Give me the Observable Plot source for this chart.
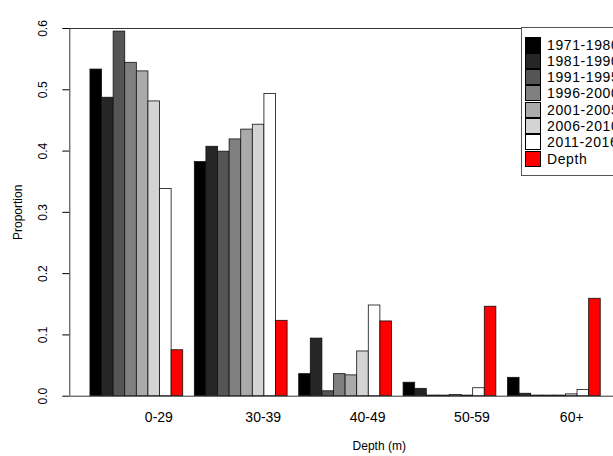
<!DOCTYPE html>
<html><head><meta charset="utf-8">
<script src="https://cdn.jsdelivr.net/npm/d3@7"></script>
<script src="https://cdn.jsdelivr.net/npm/@observablehq/plot@0.6"></script>
<style>body{margin:0;background:#fff;font-family:"Liberation Sans",Arial,sans-serif}#wrap{position:relative;width:613px;height:456px;overflow:hidden}
#legend{position:absolute;left:521px;top:27px;width:130px;height:149px;border:1px solid #555;box-sizing:border-box;background:#fff;font-size:14px;letter-spacing:0.6px}
.row{position:absolute;left:3px;height:15px;display:flex;align-items:center;white-space:nowrap}
.sw{width:14px;height:14px;border:1px solid #000;margin-right:6px}
</style></head><body><div id="wrap"><div id="chart"></div><div id="legend"></div></div>
<script>
const groups = ["0-29","30-39","40-49","50-59","60+"];
const series = ["1971-1980","1981-1990","1991-1995","1996-2000","2001-2005","2006-2010","2011-2016","Depth"];
const colors = ["#000000","#262626","#555555","#808080","#aaaaaa","#d4d4d4","#ffffff","#ff0000"];
const values = [
  [0.533,0.487,0.595,0.544,0.530,0.481,0.338,0.075],
  [0.382,0.407,0.399,0.419,0.435,0.443,0.493,0.123],
  [0.036,0.094,0.008,0.036,0.034,0.073,0.148,0.122],
  [0.022,0.012,0.001,0.001,0.002,0.001,0.013,0.146],
  [0.030,0.004,0.001,0.001,0.001,0.003,0.010,0.159]
];
const labelPos = [6.9,15.9,24.9,33.9,42.5];
const data = [];
values.forEach((row,i)=>row.forEach((v,j)=>data.push({g:i,s:j,x1:i*9+1+j,x2:i*9+2+j,v})));
const chart = Plot.plot({
  width:613,height:456,marginLeft:69.3,marginRight:0,marginTop:28,marginBottom:60.3,
  style:{fontFamily:"Liberation Sans, Arial, sans-serif",fontSize:"12px",color:"#000",overflow:"visible"},
  x:{domain:[-0.78,46.1],axis:null},
  y:{domain:[0,0.6]},
  color:{domain:series.map((d,i)=>i),range:colors},
  marks:[
    Plot.rectY(data,{x1:"x1",x2:"x2",y:"v",fill:d=>d.s,stroke:"#111",strokeWidth:0.8}),
    Plot.axisY({ticks:[0,0.1,0.2,0.3,0.4,0.5,0.6],tickFormat:d3.format(".1f"),tickSize:7,tickPadding:16,tickRotate:-90,textAnchor:"middle",label:null,fontSize:12}),
    Plot.ruleY([0,0.6],{stroke:"#333"}),
    Plot.ruleX([-0.78],{stroke:"#333"}),
    Plot.text(groups,{x:(d,i)=>labelPos[i],y:0,dy:21,text:d=>d,fontSize:14}),
    Plot.text(["Depth (m)"],{x:25.9,y:0,dy:50,fontSize:12}),
    Plot.text(["Proportion"],{x:-0.78,y:0.3,dx:-52,rotate:-90,fontSize:12})
  ]
});
document.getElementById("chart").append(chart);
const lg=document.getElementById("legend");
series.forEach((s,i)=>{const r=document.createElement("div");r.className="row";r.style.top=(9+i*16.3)+"px";
r.innerHTML=`<div class="sw" style="background:${colors[i]}"></div><span>${s}</span>`;lg.append(r);});
</script></body></html>
